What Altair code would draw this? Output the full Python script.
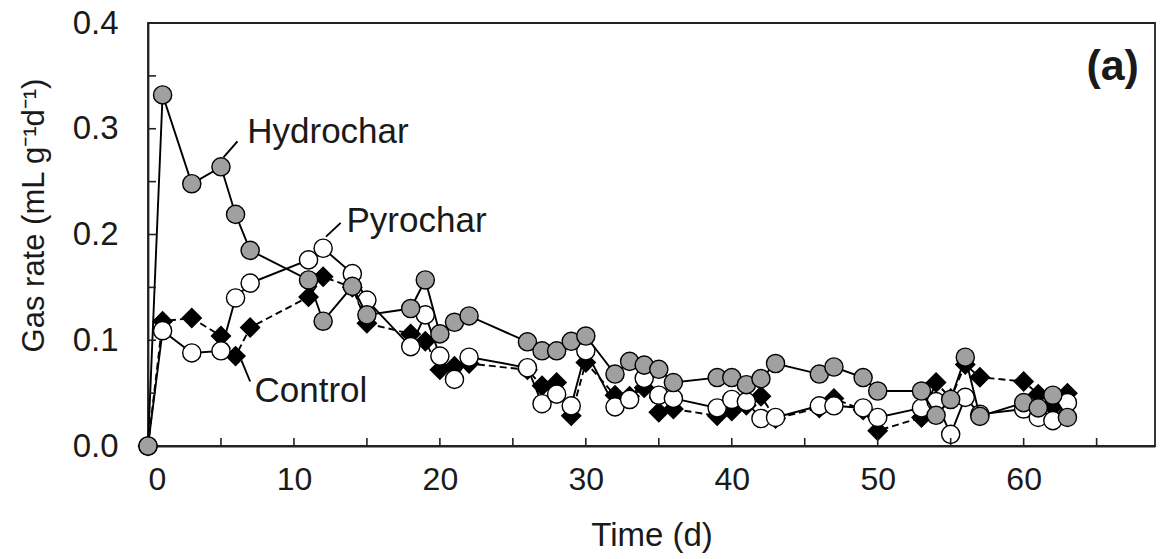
import altair as alt
import pandas as pd

# ---- data ----
days = [0, 1, 3, 5, 6, 7, 11, 12, 14, 15, 18, 19, 20, 21, 22, 26, 27, 28, 29, 30,
        32, 33, 34, 35, 36, 39, 40, 41, 42, 43, 46, 47, 49, 50, 53, 54, 55, 56, 57,
        60, 61, 62, 63]
hydrochar = [0, 0.332, 0.248, 0.264, 0.219, 0.185, 0.157, 0.118, 0.151, 0.124,
             0.130, 0.157, 0.106, 0.117, 0.123, 0.0985, 0.090, 0.090, 0.099, 0.104,
             0.068, 0.080, 0.0765, 0.0725, 0.060, 0.0647, 0.0647, 0.058, 0.0637, 0.078,
             0.068, 0.0747, 0.0647, 0.052, 0.052, 0.029, 0.044, 0.084, 0.028,
             0.041, 0.036, 0.048, 0.027]
pyrochar = [0, 0.109, 0.088, 0.090, 0.140, 0.154, 0.176, 0.187, 0.163, 0.138,
            0.094, 0.124, 0.085, 0.063, 0.084, 0.074, 0.040, 0.049, 0.038, 0.090,
            0.037, 0.044, 0.064, 0.048, 0.045, 0.036, 0.044, 0.042, 0.026, 0.027,
            0.038, 0.038, 0.036, 0.027, 0.036, 0.042, 0.011, 0.046, 0.030,
            0.035, 0.027, 0.024, 0.041]
control = [0, 0.118, 0.121, 0.104, 0.085, 0.112, 0.141, 0.160, 0.150, 0.116,
           0.106, 0.099, 0.072, 0.0755, 0.078, 0.072, 0.057, 0.060, 0.0285, 0.079,
           0.048, 0.047, 0.055, 0.032, 0.035, 0.0285, 0.033, 0.0386, 0.047, 0.026,
           0.036, 0.045, 0.034, 0.0145, 0.027, 0.060, 0.045, 0.077, 0.065,
           0.061, 0.049, 0.037, 0.050]

x_tick_vals = [5, 10, 15, 20, 25, 30, 35, 40, 45, 50, 55, 60, 65]
y_tick_vals = [0.05, 0.10, 0.15, 0.20, 0.25, 0.30, 0.35]
x_label_vals = [0, 10, 20, 30, 40, 50, 60]
y_label_vals = [0.0, 0.1, 0.2, 0.3, 0.4]

label_names = ["Hydrochar", "Pyrochar", "Control"]
label_x = [6.8, 13.6, 7.3]
label_y = [0.297, 0.213, 0.052]
leader_x1 = [5.17, 12.2, 6.4]
leader_x2 = [6.13, 13.2, 7.0]
leader_y1 = [0.273, 0.198, 0.081]
leader_y2 = [0.288, 0.211, 0.061]

X_MAX = 69
W, H = 1007, 423
FONT = "Liberation Sans"
INK = "#1a1a1a"

xs = alt.Scale(domain=[0, X_MAX], nice=False, zero=False)
ys = alt.Scale(domain=[0, 0.4], nice=False)

x_axis = alt.Axis(values=x_label_vals, ticks=False, tickSize=0, grid=False,
                  labelFontSize=32, labelFont=FONT, labelColor=INK, labelPadding=18,
                  domainColor="#222", domainWidth=1.8,
                  title="Time (d)", titleFont=FONT, titleFontSize=33,
                  titleFontWeight="normal", titleColor=INK,
                  titleBaseline="alphabetic", titleY=99, titleX=W / 2)
y_axis = alt.Axis(values=y_label_vals, format=".1f", ticks=False, tickSize=0, grid=False,
                  labelFontSize=33, labelFont=FONT, labelColor=INK, labelPadding=30,
                  domainColor="#222", domainWidth=1.8,
                  title="Gas rate (mL g\u207b\u00b9d\u207b\u00b9)", titleFont=FONT,
                  titleFontSize=31, titleFontWeight="normal", titleColor=INK,
                  titleBaseline="alphabetic", titleAngle=-90,
                  titleX=-105, titleY=192)


def X(field):
    return alt.X(field, scale=xs, axis=x_axis)


def Y(field):
    return alt.Y(field, scale=ys, axis=y_axis)


df_h = pd.DataFrame({"t": days, "v": hydrochar})
df_p = pd.DataFrame({"t": days, "v": pyrochar})
df_c = pd.DataFrame({"t": days, "v": control})


def series(df, dash, fill, shape, size):
    line_kw = dict(color="black", strokeWidth=1.9)
    if dash:
        line_kw["strokeDash"] = dash
    line = alt.Chart(df).mark_line(**line_kw).encode(x=X("t:Q"), y=Y("v:Q"))
    pts = alt.Chart(df).mark_point(shape=shape, filled=True, fill=fill, stroke="black",
                                   strokeWidth=1.4, size=size, opacity=1).encode(
        x=X("t:Q"), y=Y("v:Q"))
    return line + pts


ctrl = series(df_c, [7, 4], "black", "diamond", 360)
pyro = series(df_p, None, "white", "circle", 330)
hydro = series(df_h, None, "#a0a0a0", "circle", 330)

# inward ticks
xt = alt.Chart(pd.DataFrame({"t": x_tick_vals})).mark_rule(color="#222", strokeWidth=1.6).encode(
    x=X("t:Q"), y=alt.value(H), y2=alt.value(H - 8))
yt = alt.Chart(pd.DataFrame({"v": y_tick_vals})).mark_rule(color="#222", strokeWidth=1.6).encode(
    y=Y("v:Q"), x=alt.value(0), x2=alt.value(8))

ann = pd.DataFrame({"name": label_names, "x": label_x, "y": label_y})
txt = alt.Chart(ann).mark_text(align="left", baseline="middle", font=FONT, fontSize=35,
                               color=INK).encode(x=X("x:Q"), y=Y("y:Q"), text="name:N")
lead = pd.DataFrame({"x1": leader_x1, "x2": leader_x2, "y1": leader_y1, "y2": leader_y2})
leaders = alt.Chart(lead).mark_rule(color="black", strokeWidth=1.9).encode(
    x=X("x1:Q"), x2="x2:Q", y=Y("y1:Q"), y2="y2:Q")

panel = alt.Chart(pd.DataFrame({"x": [67.9], "y": [0.358], "s": ["(a)"]})).mark_text(
    align="right", baseline="middle", font=FONT, fontSize=43, fontWeight="bold",
    color=INK).encode(x=X("x:Q"), y=Y("y:Q"), text="s:N")

chart = alt.layer(ctrl, pyro, hydro, xt, yt, leaders, txt, panel).properties(
    width=W, height=H,
    autosize=alt.AutoSizeParams(type="none"),
    padding={"left": 148, "top": 23, "right": 6, "bottom": 113},
    background="white",
).configure_view(stroke="#222", strokeWidth=1.8)

chart.save("out.html", embed_options={"renderer": "svg", "actions": False})
